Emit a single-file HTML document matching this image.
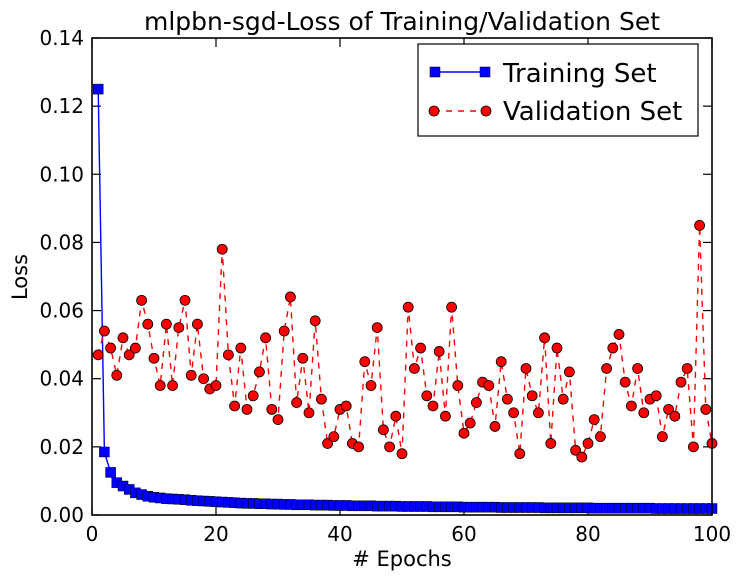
<!DOCTYPE html>
<html><head><meta charset="utf-8"><style>
body{margin:0;background:#fff;}
svg{display:block;font-family:"DejaVu Sans","Liberation Sans",sans-serif;}
</style></head><body>
<svg id="chart" width="743" height="579" viewBox="0 0 743 579">
<rect x="0" y="0" width="743" height="579" fill="#fff"/>
<text x="402" y="30" font-size="25" text-anchor="middle">mlpbn-sgd-Loss of Training/Validation Set</text>
<text x="402" y="566" font-size="21" text-anchor="middle"># Epochs</text>
<text x="27" y="277" font-size="21" text-anchor="middle" transform="rotate(-90 27 277)">Loss</text>
<g id="ticks"></g>
<g id="series"></g>
<rect x="92" y="38" width="620" height="477" fill="none" stroke="#000" stroke-width="1.6"/>
<g>
<rect x="418" y="44" width="280" height="92" fill="#fff" stroke="#000" stroke-width="1.2"/>
<g>
<line x1="435" y1="72" x2="485" y2="72" stroke="#00f" stroke-width="1.4"/>
<rect x="430" y="67" width="10" height="10" fill="#00f" stroke="#000" stroke-width="0.5"/>
<rect x="480" y="67" width="10" height="10" fill="#00f" stroke="#000" stroke-width="0.5"/>
<text x="503" y="82" font-size="26">Training Set</text></g>
<g>
<line x1="434" y1="111" x2="486" y2="111" stroke="#f00" stroke-width="1.4" stroke-dasharray="6,6"/>
<circle cx="434" cy="111" r="5" fill="#f00" stroke="#000" stroke-width="0.8"/>
<circle cx="486" cy="111" r="5" fill="#f00" stroke="#000" stroke-width="0.8"/>
<text x="503" y="120" font-size="26">Validation Set</text></g>
</g>
</svg>
<script>
const xTicks=[0,20,40,60,80,100];
const yTicks=[0,0.02,0.04,0.06,0.08,0.10,0.12,0.14];
const yTickLabels=["0.00","0.02","0.04","0.06","0.08","0.10","0.12","0.14"];
const training=[0.125,0.0185,0.0125,0.0095,0.0085,0.0075,0.0065,0.006,0.0055,0.0052,0.005,0.0048,0.0047,0.0046,0.0045,0.0043,0.0042,0.0041,0.004,0.0039,0.0038,0.0037,0.0036,0.0035,0.0034,0.0034,0.0033,0.0033,0.0032,0.0032,0.0031,0.0031,0.003,0.003,0.003,0.0029,0.0029,0.0029,0.0028,0.0028,0.0028,0.0027,0.0027,0.0027,0.0027,0.0026,0.0026,0.0026,0.0026,0.0025,0.0025,0.0025,0.0025,0.0025,0.0024,0.0024,0.0024,0.0024,0.0024,0.0023,0.0023,0.0023,0.0023,0.0023,0.0023,0.0022,0.0022,0.0022,0.0022,0.0022,0.0022,0.0022,0.0021,0.0021,0.0021,0.0021,0.0021,0.0021,0.0021,0.0021,0.002,0.002,0.002,0.002,0.002,0.002,0.002,0.002,0.002,0.002,0.0019,0.0019,0.0019,0.0019,0.0019,0.0019,0.0019,0.0019,0.0019,0.0019];
const validation=[0.047,0.054,0.049,0.041,0.052,0.047,0.049,0.063,0.056,0.046,0.038,0.056,0.038,0.055,0.063,0.041,0.056,0.040,0.037,0.038,0.078,0.047,0.032,0.049,0.031,0.035,0.042,0.052,0.031,0.028,0.054,0.064,0.033,0.046,0.030,0.057,0.034,0.021,0.023,0.031,0.032,0.021,0.020,0.045,0.038,0.055,0.025,0.020,0.029,0.018,0.061,0.043,0.049,0.035,0.032,0.048,0.029,0.061,0.038,0.024,0.027,0.033,0.039,0.038,0.026,0.045,0.034,0.030,0.018,0.043,0.035,0.030,0.052,0.021,0.049,0.034,0.042,0.019,0.017,0.021,0.028,0.023,0.043,0.049,0.053,0.039,0.032,0.043,0.030,0.034,0.035,0.023,0.031,0.029,0.039,0.043,0.020,0.085,0.031,0.021];
const NS="http://www.w3.org/2000/svg";
const X=v=>92+v*6.2, Y=v=>515-v*(477/0.14);
const tg=document.getElementById('ticks'), sg=document.getElementById('series');
function mk(t,a,p){const e=document.createElementNS(NS,t);for(const k in a)e.setAttribute(k,a[k]);p.appendChild(e);return e;}
xTicks.forEach(v=>{
 const l=mk('line',{x1:X(v),x2:X(v),y1:515,y2:506,stroke:'#000','stroke-width':1.2},tg);
 
 
 mk('line',{x1:X(v),x2:X(v),y1:38,y2:47,stroke:'#000','stroke-width':1.2},tg);
 const t=mk('text',{x:X(v),y:541,'font-size':20,'text-anchor':'middle'},tg);t.textContent=v;
 
 
});
yTicks.forEach((v,i)=>{
 const l=mk('line',{x1:92,x2:101,y1:Y(v),y2:Y(v),stroke:'#000','stroke-width':1.2},tg);
 
 
 mk('line',{x1:703,x2:712,y1:Y(v),y2:Y(v),stroke:'#000','stroke-width':1.2},tg);
 const t=mk('text',{x:84,y:Y(v)+7,'font-size':20,'text-anchor':'end'},tg);t.textContent=yTickLabels[i];
 
 
});
const tp=mk('polyline',{points:training.map((v,i)=>X(i+1)+','+Y(v)).join(' '),fill:'none',stroke:'#00f','stroke-width':1.4},sg);


const vp=mk('polyline',{points:validation.map((v,i)=>X(i+1)+','+Y(v)).join(' '),fill:'none',stroke:'#f00','stroke-width':1.4,'stroke-dasharray':'6,6'},sg);


training.forEach((v,i)=>{
 const r=mk('rect',{x:X(i+1)-5,y:Y(v)-5,width:10,height:10,fill:'#00f',stroke:'#000','stroke-width':0.5},sg);
 
 
});
validation.forEach((v,i)=>{
 const c=mk('circle',{cx:X(i+1),cy:Y(v),r:5,fill:'#f00',stroke:'#000','stroke-width':0.8},sg);
 
 
});
</script>
</body></html>
